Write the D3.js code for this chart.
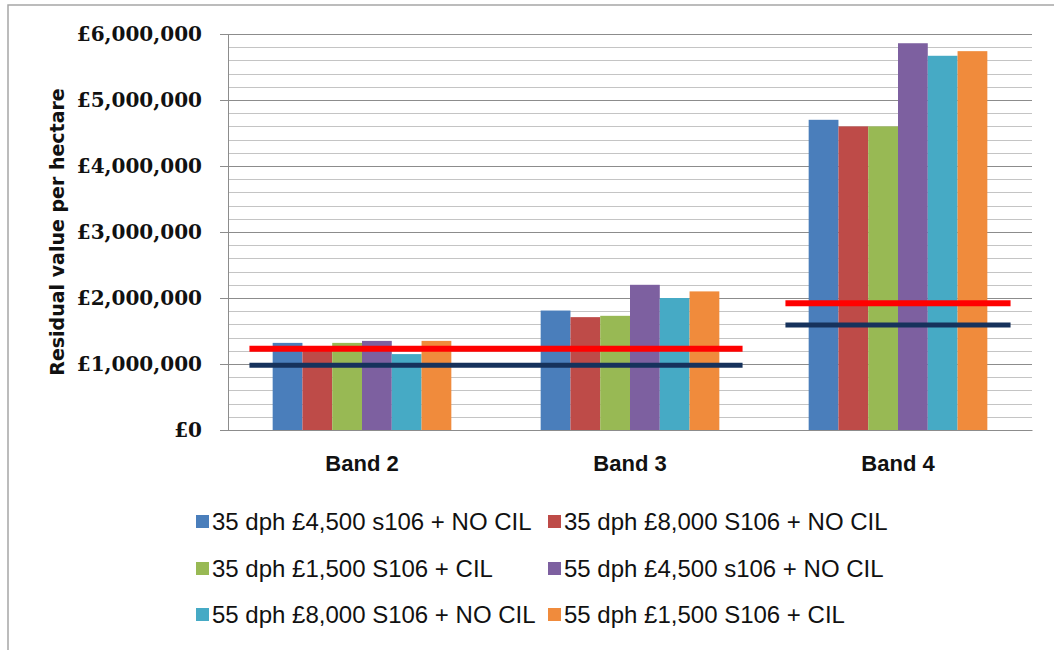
<!DOCTYPE html>
<html>
<head>
<meta charset="utf-8">
<script src="https://cdn.jsdelivr.net/npm/d3@7"></script>
<style>
  html, body { margin: 0; padding: 0; background: #ffffff; }
  svg { display: block; }
</style>
</head>
<body>
<svg id="chart" width="1054" height="650"></svg>
<script>
// Residual land value per hectare by value band, six development scenarios
const bands = ["Band 2", "Band 3", "Band 4"];

const seriesNames = [
  "35 dph £4,500 s106 + NO CIL",
  "35 dph £8,000 S106 + NO CIL",
  "35 dph £1,500 S106 + CIL",
  "55 dph £4,500 s106 + NO CIL",
  "55 dph £8,000 S106 + NO CIL",
  "55 dph £1,500 S106 + CIL"
];

const seriesColors = ["#4A7EBB", "#BE4B48", "#98B954", "#7D60A0", "#46AAC5", "#F08B3C"];

// values per series, in band order
const dph35_4500 = [1320000, 1810000, 4700000];
const dph35_8000 = [1270000, 1710000, 4600000];
const dph35_1500 = [1320000, 1730000, 4600000];
const dph55_4500 = [1350000, 2200000, 5860000];
const dph55_8000 = [1150000, 2000000, 5670000];
const dph55_1500 = [1350000, 2100000, 5740000];
const seriesValues = [dph35_4500, dph35_8000, dph35_1500, dph55_4500, dph55_8000, dph55_1500];

// benchmark land values drawn across bands
const benchmarkUpper = [
  { from: "Band 2", to: "Band 3", value: 1230000 },
  { from: "Band 4", to: "Band 4", value: 1920000 }
];
const benchmarkLower = [
  { from: "Band 2", to: "Band 3", value: 980000 },
  { from: "Band 4", to: "Band 4", value: 1590000 }
];

const yTicks = [0, 1000000, 2000000, 3000000, 4000000, 5000000, 6000000];
const yMinorStep = 200000;
const yTitle = "Residual value per hectare";

// ---- layout ----
const svg = d3.select("#chart");
const plot = { left: 228, right: 1032, top: 34, bottom: 430 };

const x = d3.scaleBand().domain(bands).range([plot.left, plot.right]).padding(0);
const xSeries = d3.scaleBand().domain(d3.range(seriesNames.length))
  .range([0, x.bandwidth()]).paddingInner(0).paddingOuter(1.5);
const y = d3.scaleLinear().domain([0, 6000000]).range([plot.bottom, plot.top]);

const fmt = v => "£" + d3.format(",")(v);

// outer chart frame
svg.append("rect")
  .attr("x", 8).attr("y", 5).attr("width", 1100).attr("height", 700)
  .attr("fill", "#ffffff").attr("stroke", "#a6a6a6").attr("stroke-width", 1.5);

// minor gridlines
const minorVals = d3.range(0, 6000000 + 1, yMinorStep).filter(v => v % 1000000 !== 0);
svg.append("g").selectAll("line").data(minorVals).join("line")
  .attr("x1", plot.left).attr("x2", plot.right)
  .attr("y1", d => Math.round(y(d)) + 0.5).attr("y2", d => Math.round(y(d)) + 0.5)
  .attr("stroke", "#c4c4c4").attr("stroke-width", 1);

// y axis with major gridlines
const yAxis = d3.axisLeft(y).tickValues(yTicks).tickFormat(fmt)
  .tickSize(-(plot.right - plot.left)).tickPadding(26);
const gy = svg.append("g").attr("transform", `translate(${plot.left},0)`).call(yAxis);
gy.select(".domain").remove();
gy.selectAll(".tick line").attr("stroke", "#8c8c8c").attr("stroke-width", 1);
// outward tick marks
gy.selectAll(".tick").append("line")
  .attr("x1", -8).attr("x2", 0).attr("stroke", "#8c8c8c");
gy.selectAll(".tick text")
  .attr("fill", "#111")
  .style("font-family", "'DejaVu Serif', 'Liberation Serif', serif")
  .style("font-weight", "bold")
  .style("font-size", "20px");

// vertical axis line
svg.append("line")
  .attr("x1", plot.left + 0.5).attr("x2", plot.left + 0.5)
  .attr("y1", plot.top).attr("y2", plot.bottom)
  .attr("stroke", "#8c8c8c");

// bars
const barGroups = svg.append("g").selectAll("g").data(seriesNames).join("g")
  .attr("fill", (d, i) => seriesColors[i]);
barGroups.selectAll("rect")
  .data((d, i) => bands.map((b, j) => ({ band: b, s: i, v: seriesValues[i][j] })))
  .join("rect")
  .attr("x", d => x(d.band) + xSeries(d.s))
  .attr("width", xSeries.bandwidth())
  .attr("y", d => y(d.v))
  .attr("height", d => y(0) - y(d.v));

// x axis
const gx = svg.append("g").attr("transform", `translate(0,${plot.bottom})`)
  .call(d3.axisBottom(x).tickSize(0).tickPadding(25));
gx.select(".domain").attr("stroke", "#8c8c8c");
gx.selectAll(".tick text")
  .attr("fill", "#111")
  .style("font-family", "'Liberation Sans', Arial, sans-serif")
  .style("font-weight", "bold")
  .style("font-size", "22px");

// benchmark lines
function drawBenchmarks(list, color, width) {
  svg.append("g").selectAll("line").data(list).join("line")
    .attr("x1", d => x(d.from) + x.step() * 0.08)
    .attr("x2", d => x(d.to) + x.step() * 0.92)
    .attr("y1", d => y(d.value)).attr("y2", d => y(d.value))
    .attr("stroke", color).attr("stroke-width", width);
}
drawBenchmarks(benchmarkUpper, "#ff0000", 6);
drawBenchmarks(benchmarkLower, "#16325c", 5);

// y axis title
svg.append("text")
  .attr("transform", `translate(64,${(plot.top + plot.bottom) / 2}) rotate(-90)`)
  .attr("text-anchor", "middle")
  .attr("fill", "#111")
  .style("font-family", "'DejaVu Sans', sans-serif")
  .style("font-weight", "bold")
  .style("font-size", "19px")
  .text(yTitle);

// legend: three rows of two
const legendCols = [196, 548];
const legendRows = [522, 569, 615];
const legend = svg.append("g").selectAll("g").data(seriesNames).join("g")
  .attr("transform", (d, i) => `translate(${legendCols[i % 2]},${legendRows[Math.floor(i / 2)]})`);
legend.append("rect")
  .attr("x", 0).attr("y", -7).attr("width", 13).attr("height", 13)
  .attr("fill", (d, i) => seriesColors[i]);
legend.append("text")
  .attr("x", 16).attr("y", 8)
  .attr("fill", "#111")
  .style("font-family", "'Liberation Sans', Arial, sans-serif")
  .style("font-size", "24px")
  .text(d => d);
</script>
</body>
</html>
